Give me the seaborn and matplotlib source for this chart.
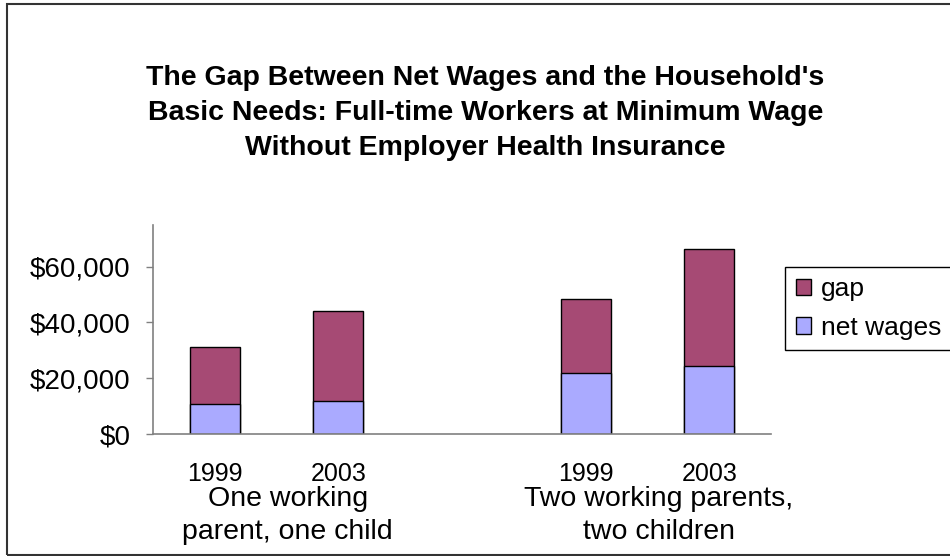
import pandas as pd
import seaborn as sns
import matplotlib.pyplot as plt
from matplotlib.patches import Rectangle
from matplotlib.ticker import FuncFormatter

# Values
groups = ["One working\nparent, one child", "Two working parents,\ntwo children"]
years = ["1999", "2003"]
net_wages = [10700, 12000, 22000, 24300]
gap = [20600, 32200, 26300, 41900]

gap_color = "#A64A74"
wage_color = "#AAAAFF"

# one row per bar, a blank slot separates the two households
slots, slot_year, slot_group = [], [], []
for g_i, g in enumerate(groups):
    for y in years:
        slots.append(f"{g_i}-{y}")
        slot_year.append(y)
        slot_group.append(g)
order = slots[:2] + ["spacer"] + slots[2:]

df = pd.DataFrame({
    "slot": slots,
    "year": slot_year,
    "group": slot_group,
    "net wages": net_wages,
    "gap": gap,
})
df["total"] = df["net wages"] + df["gap"]

sns.set_theme(style="white")
plt.rcParams["font.family"] = ["Liberation Sans", "DejaVu Sans"]
plt.rcParams["text.color"] = "black"
plt.rcParams["xtick.color"] = "black"
plt.rcParams["ytick.color"] = "black"

fig = plt.figure(figsize=(9.5, 5.56), dpi=100)
ax = fig.add_axes([0.161, 0.2194, 0.6506, 0.3765])

# stacked: draw totals, then net wages over the lower part
sns.barplot(data=df, x="slot", y="total", order=order, color=gap_color,
            width=0.405, edgecolor="black", linewidth=1, saturation=1,
            label="gap", ax=ax)
sns.barplot(data=df, x="slot", y="net wages", order=order, color=wage_color,
            width=0.405, edgecolor="black", linewidth=1, saturation=1,
            label="net wages", ax=ax)
if ax.get_legend() is not None:
    ax.get_legend().remove()

ax.set_xlim(-0.5, len(order) - 0.5)
ax.set_ylim(0, 75000)
ax.set_yticks([0, 20000, 40000, 60000])
ax.yaxis.set_major_formatter(FuncFormatter(lambda v, p: f"${v:,.0f}"))
ax.tick_params(axis="y", which="major", left=True, length=5, width=1,
               color="#808080", labelcolor="black", pad=11, labelsize=20)

tick_labels = [df.set_index("slot").loc[s, "year"] if s != "spacer" else "" for s in order]
ax.set_xticks(range(len(order)))
ax.set_xticklabels(tick_labels)
ax.tick_params(axis="x", length=0, pad=20, labelsize=18, labelcolor="black")
ax.set_xlabel("")
ax.set_ylabel("")

for side in ["top", "right"]:
    ax.spines[side].set_visible(False)
for side in ["left", "bottom"]:
    ax.spines[side].set_color("#808080")
    ax.spines[side].set_linewidth(1.2)

# household labels under the year labels
for g in groups:
    idx = [order.index(s) for s in df.loc[df["group"] == g, "slot"]]
    xc = sum(idx) / len(idx) + 0.09
    ax.text(xc, -0.39, g, transform=ax.get_xaxis_transform(), ha="center",
            va="center", fontsize=20.5, linespacing=1.32)

fig.text(0.511, 0.7968,
         "The Gap Between Net Wages and the Household's\n"
         "Basic Needs: Full-time Workers at Minimum Wage\n"
         "Without Employer Health Insurance",
         ha="center", va="center", fontsize=20.5, fontweight="bold", linespacing=1.44)

handles, labels = ax.get_legend_handles_labels()
leg = fig.legend(handles, labels, loc="upper left",
                 bbox_to_anchor=(785 / 950, 1 - 266.7 / 556),
                 fontsize=19, frameon=True, fancybox=False, framealpha=1,
                 handlelength=0.6, handleheight=0.6, handletextpad=0.35,
                 labelspacing=0.55, borderpad=0.4, borderaxespad=0)
leg.get_frame().set_edgecolor("black")
leg.get_frame().set_linewidth(1)

# chart border
fig.patches.append(Rectangle((7 / 950, 1.5 / 556), 1.1, 551 / 556,
                             transform=fig.transFigure, fill=False,
                             edgecolor="#333333", linewidth=1.5))

fig.savefig("out.png", dpi=100)
print("saved out.png")
